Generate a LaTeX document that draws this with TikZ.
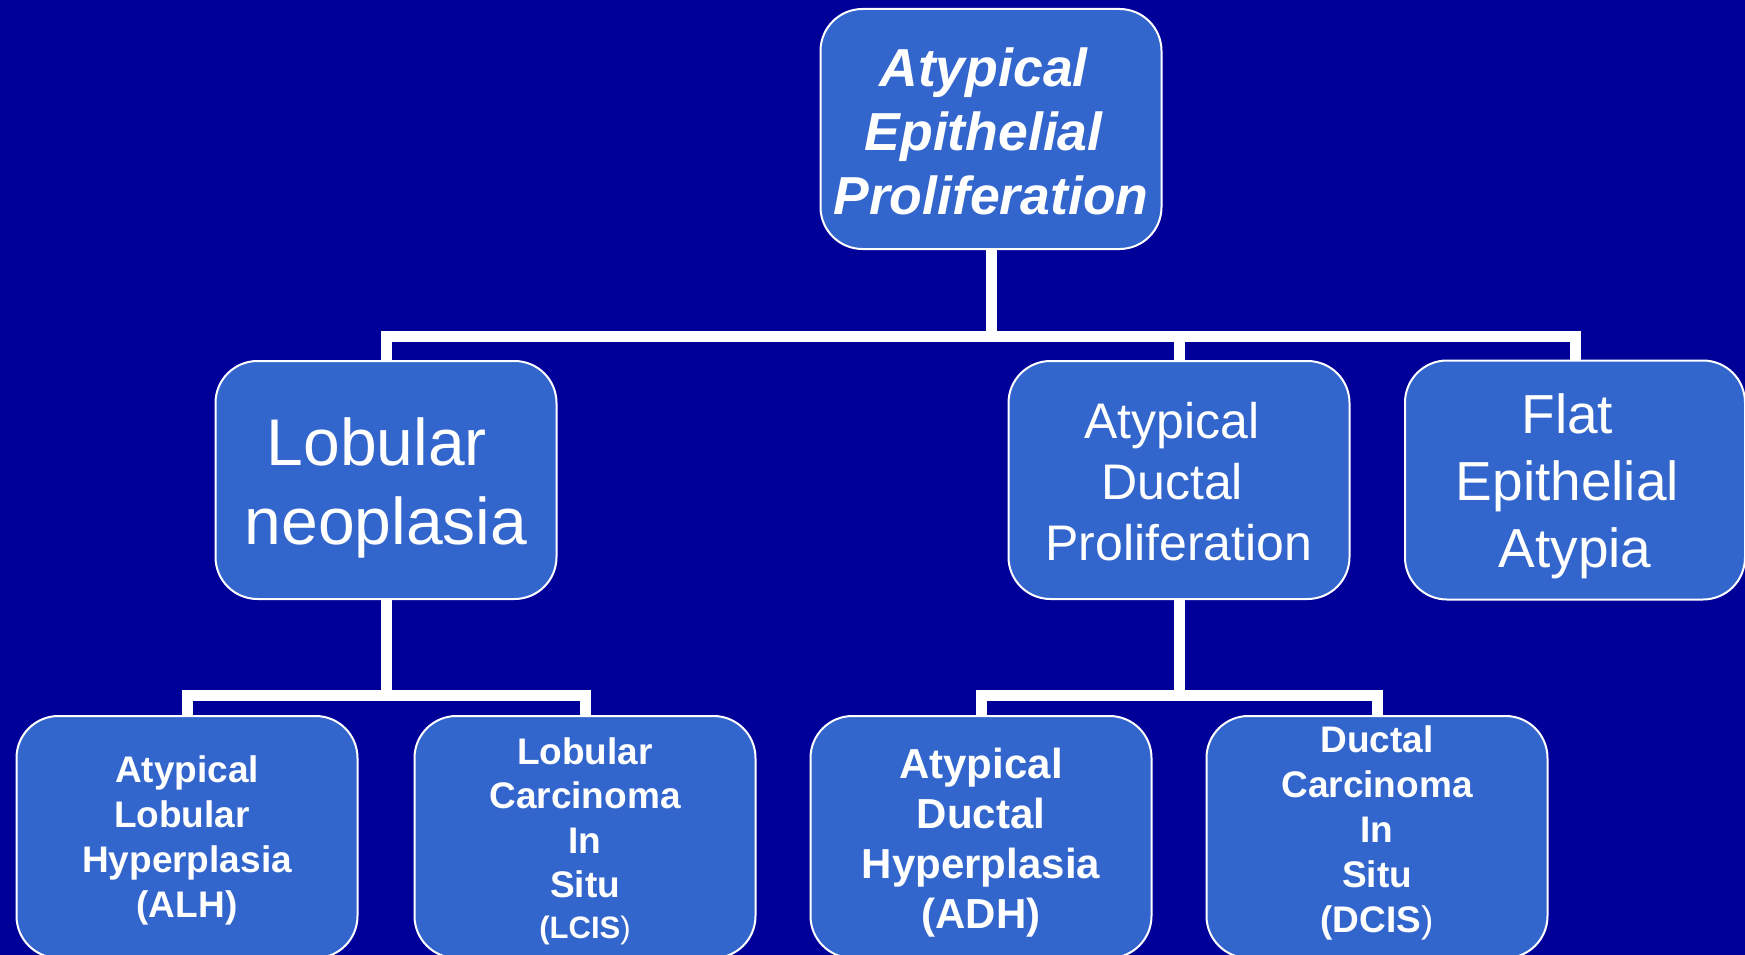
\documentclass[tikz,border=0pt]{standalone}
\usepackage{fontspec}
\setmainfont{Liberation Sans}
\definecolor{bg}{RGB}{0,0,153}
\definecolor{boxfill}{RGB}{51,102,204}
\newcommand{\trsp}{\kern.278em}
\begin{document}
\begin{tikzpicture}[x=1pt,y=-1pt,
  box/.style={draw=white, line width=2pt, fill=boxfill, rounded corners=42pt,
    inner sep=0pt, minimum width=341pt},
  txt/.style={text=white, align=center, inner sep=0pt},
  conn/.style={draw=white, line width=11pt, line join=miter}]
\fill[bg] (0,0) rectangle (1745,955);
\useasboundingbox (0,0) rectangle (1745,955);
\begin{scope}
\clip (0,0) rectangle (1745,955);
\coordinate (bus) at (991,336);
\coordinate (subL) at (386,695);
\coordinate (subR) at (1179,695);
% boxes
\node[box, minimum height=240pt] (top) at (991,129) {};
\node[box, minimum height=238pt] (lob) at (386,480) {};
\node[box, minimum height=238pt] (adp) at (1179,480) {};
\node[box, minimum height=239pt, minimum width=340pt] (flat) at (1575,480) {};
\node[box, minimum height=242pt] (alh) at (187,837) {};
\node[box, minimum height=242pt] (lcis) at (585,837) {};
\node[box, minimum height=242pt] (adh) at (981,837) {};
\node[box, minimum height=242pt] (dcis) at (1377,837) {};
% texts
\node[txt, font=\fontsize{53.5}{64}\selectfont\bfseries\itshape] (topT) at ([yshift=-2pt]top.center) {Atypical\trsp\\Epithelial\trsp\\Proliferation};
\node[txt, font=\fontsize{66}{79}\selectfont] (lobT) at ([yshift=-8pt]lob.center) {Lobular\trsp\\neoplasia};
\node[txt, font=\fontsize{50}{61}\selectfont] (adpT) at ([yshift=-2pt]adp.center) {Atypical\trsp\\Ductal\trsp\\Proliferation};
\node[txt, font=\fontsize{55}{67}\selectfont] (flatT) at ([yshift=-6pt]flat.center) {Flat\trsp\\Epithelial\trsp\\Atypia};
\node[txt, font=\fontsize{37}{45}\selectfont\bfseries] (alhT) at ([yshift=-3pt]alh.center) {Atypical\\Lobular\trsp\\Hyperplasia\\(ALH)};
\node[txt, font=\fontsize{37}{44.5}\selectfont\bfseries] (lcisT) at ([yshift=-4pt]lcis.center) {Lobular\\Carcinoma\\In\\Situ\\[-4pt]{\fontsize{31}{37}\selectfont (LCIS{\mdseries )}}};
\node[txt, font=\fontsize{42}{50}\selectfont\bfseries] (adhT) at ([yshift=-5.5pt]adh.center) {Atypical\\Ductal\\Hyperplasia\\(ADH)};
\node[txt, font=\fontsize{37}{45}\selectfont\bfseries] (dcisT) at ([yshift=4pt]dcis.center) {Ductal\\Carcinoma\\In\\Situ\\(DCIS{\mdseries )}};
% connectors
\draw[conn] (top.south) -- (top.south |- bus);
\draw[conn] (lob.north) -- (lob.north |- bus) -- (flat.north |- bus) -- (flat.north);
\draw[conn] (adp.north) -- (adp.north |- bus);
\draw[conn] (lob.south) -- (subL);
\draw[conn] (alh.north) -- (alh.north |- subL) -- (lcis.north |- subL) -- (lcis.north);
\draw[conn] (adp.south) -- (subR);
\draw[conn] (adh.north) -- (adh.north |- subR) -- (dcis.north |- subR) -- (dcis.north);
\end{scope}
\end{tikzpicture}
\end{document}
